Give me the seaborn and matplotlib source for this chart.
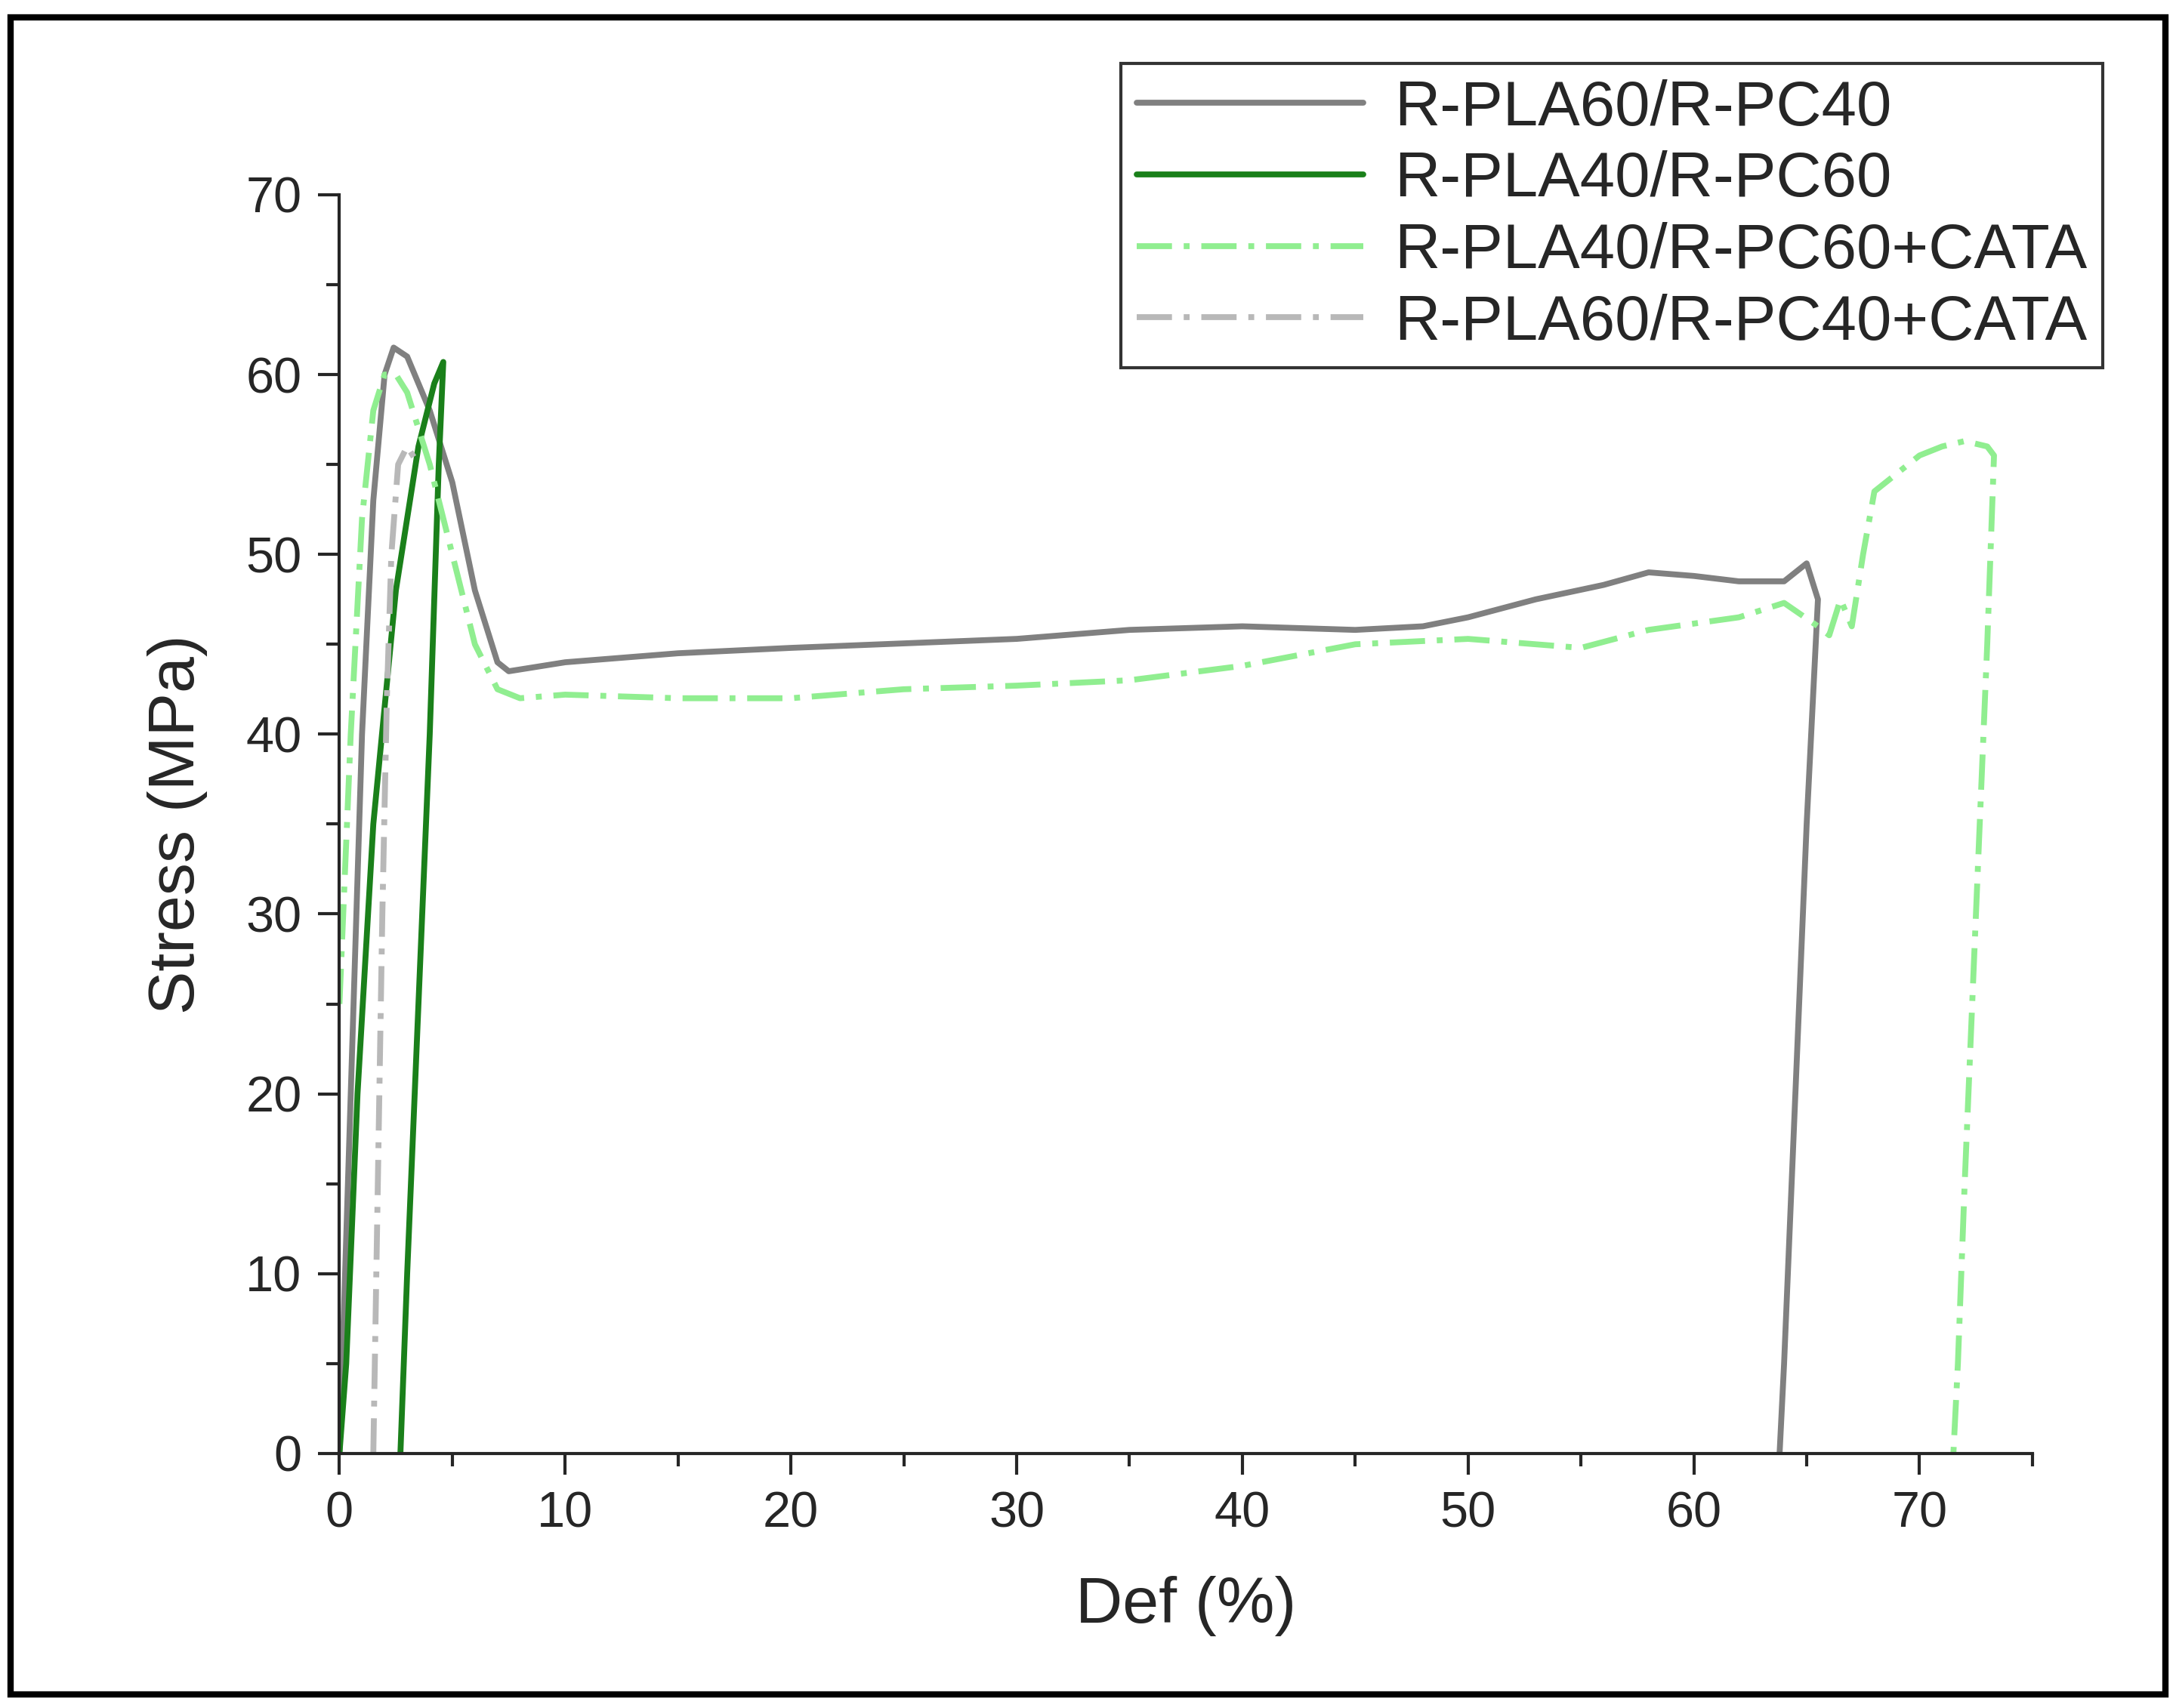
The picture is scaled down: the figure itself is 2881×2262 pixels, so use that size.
import matplotlib
matplotlib.use("Agg")
import matplotlib.pyplot as plt
import seaborn as sns
import pandas as pd
from matplotlib.ticker import MultipleLocator
from matplotlib.patches import Rectangle

sns.set_style("ticks")
plt.rcParams['font.family'] = ['Arial', 'Liberation Sans', 'DejaVu Sans']

s1_x = [0,0.5,1,1.5,2,2.4,3,4,5,6,7,7.5,10,15,20,30,35,40,45,48,50,53,56,58,60,62,64,65,65.5,65,64.5,64,63.8]
s1_y = [0,20,40,53,60,61.5,61,58,54,48,44,43.5,44,44.5,44.8,45.3,45.8,46,45.8,46,46.5,47.5,48.3,49,48.8,48.5,48.5,49.5,47.5,35,20,5,0]
s2_x = [0,0.3,0.8,1.5,2.5,3.5,4.2,4.6,4.4,4.0,3.5,3.0,2.7]
s2_y = [0,5,20,35,48,56,59.5,60.7,55,40,25,10,0]
s3_x = [0,0.5,1,1.5,2,2.5,3,4,5,6,7,8,10,15,20,25,30,35,40,45,50,55,58,62,64,65.5,66,66.5,67,67.5,68,69,70,71,72,73,73.3,73,72.5,72,71.7,71.5]
s3_y = [25,40,52,58,60,60,59,55,50,45,42.5,42,42.2,42,42,42.5,42.7,43,43.8,45,45.3,44.8,45.8,46.5,47.3,46,45.5,47.5,46,50,53.5,54.5,55.5,56,56.3,56,55.5,45,30,15,5,0]
s4_x = [1.5,1.7,1.9,2.1,2.3,2.6,3.0,3.5]
s4_y = [0,15,30,42,50,55,56,55]
labels = ["R-PLA60/R-PC40","R-PLA40/R-PC60","R-PLA40/R-PC60+CATA","R-PLA60/R-PC40+CATA"]

fig = plt.figure(figsize=(14.405, 11.31), dpi=200)
ax = fig.add_axes([0.156, 0.149, 0.778, 0.737])
styles = [("#808080","-"),("#1a801a","-"),("#90ee90",(0,(6,2,1,2))),("#b8b8b8",(0,(6,2,1,2)))]
handles = []
for (x, y), (c, ls), lab in zip([(s1_x,s1_y),(s2_x,s2_y),(s3_x,s3_y),(s4_x,s4_y)], styles, labels):
    df = pd.DataFrame({"x": x, "y": y})
    sns.lineplot(data=df, x="x", y="y", sort=False, estimator=None, ax=ax, color=c, lw=2.8, linestyle=ls)
    handles.append(plt.Line2D([], [], color=c, lw=2.8, linestyle=ls))
ax.set_xlim(0, 75)
ax.set_ylim(0, 70)
ax.xaxis.set_major_locator(MultipleLocator(10)); ax.xaxis.set_minor_locator(MultipleLocator(5))
ax.yaxis.set_major_locator(MultipleLocator(10)); ax.yaxis.set_minor_locator(MultipleLocator(5))
for s in ["top","right"]:
    ax.spines[s].set_visible(False)
for s in ["left","bottom"]:
    ax.spines[s].set_linewidth(1.5)
ax.tick_params(which="major", length=10, width=1.5, labelsize=24, direction="out", pad=8)
ax.tick_params(which="minor", length=6, width=1.5, direction="out")
ax.set_xlabel("Def (%)", fontsize=31, labelpad=18)
ax.set_ylabel("Stress (MPa)", fontsize=31, labelpad=18)
leg = fig.legend(handles, labels, loc="upper left", bbox_to_anchor=(0.515, 0.963), fontsize=30,
                 frameon=True, fancybox=False, edgecolor="black", handlelength=3.6,
                 borderaxespad=0, labelspacing=0.2, borderpad=0.25, handletextpad=0.5)
leg.get_frame().set_linewidth(1.5)
fig.patches.append(Rectangle((0.005, 0.008), 0.99, 0.982, transform=fig.transFigure,
                             fill=False, edgecolor="black", lw=3))
fig.savefig("out.png", dpi=200)
